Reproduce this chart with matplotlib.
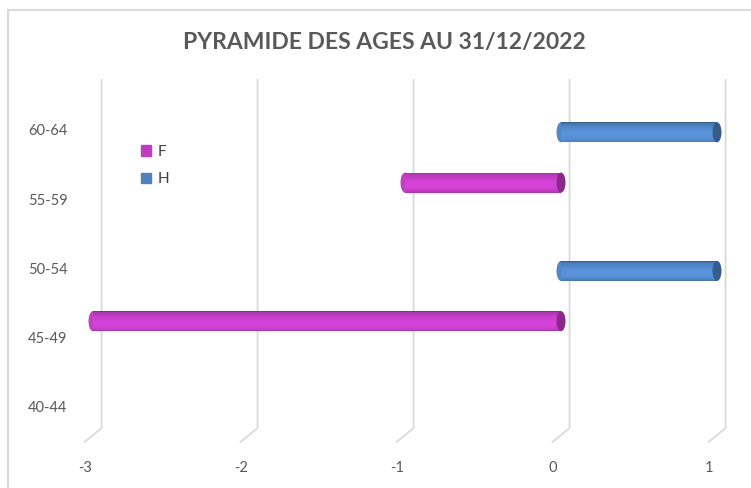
import matplotlib.pyplot as plt
import numpy as np
from matplotlib.patches import Ellipse, Rectangle
from matplotlib.colors import to_rgb

# data
ages = ['40-44', '45-49', '50-54', '55-59', '60-64']
femmes = [0, -3, 0, -1, 0]
hommes = [0, 0, 1, 0, 1]
xticks = [-3, -2, -1, 0, 1]

W, H = 751, 488
fig = plt.figure(figsize=(W / 100, H / 100), dpi=100)
plt.rcParams['font.family'] = ['Lato', 'DejaVu Sans']

# chart area border (Excel-like)
fig.patches.append(Rectangle((8 / W, -0.1), 1.2, 1.1 - 10 / H, transform=fig.transFigure,
                             fill=False, edgecolor='#d9d9d9', linewidth=1.5))

# axes placed so that value 0 sits at x=561 px and 156 px per unit
px0, ppu = 561, 156
ax_l, ax_r, ax_t, ax_b = 80, 740, 78, 432
ax = fig.add_axes([ax_l / W, 1 - ax_b / H, (ax_r - ax_l) / W, (ax_b - ax_t) / H])
ax.set_xlim((ax_l - px0) / ppu, (ax_r - px0) / ppu)
ypu = 69.3
ax.set_ylim((400 - ax_b) / ypu, (400 - ax_t) / ypu)
for s in ax.spines.values():
    s.set_visible(False)

grid_col = '#d9d9d9'
back = 0.055   # back wall offset (3D)
y_top, y_bot, y_diag = (400 - 80) / ypu, (400 - 428) / ypu, (400 - 442) / ypu
for v in xticks:
    ax.plot([v + back, v + back, v + back - 17 / ppu], [y_top, y_bot, y_diag],
            color=grid_col, lw=1.3, clip_on=False, zorder=1)

ax.set_xticks([v - 0.05 for v in xticks], [str(v) for v in xticks])
ax.set_yticks([i - 0.1 for i in range(len(ages))], ages)
ax.tick_params(length=0, colors='#595959', labelsize=10.5)
ax.tick_params(axis='x', pad=21)
ax.tick_params(axis='y', pad=9)


def cylinder(yc, start, width, base, h=0.29, n=24):
    base = np.array(to_rgb(base))
    for k in range(n):
        t = (k + 0.5) / n          # 0 = bottom, 1 = top
        f = 0.72 + 0.36 * np.sin(np.pi * t ** 0.75) ** 0.5
        if t > 0.94:
            f *= 0.88
        c = np.clip(base * f, 0, 1)
        ax.barh(yc - h / 2 + k * h / n, width, height=h / n * 1.05, left=start,
                align='edge', color=c, linewidth=0, zorder=3)
    ew = 9 / ppu
    lo, hi = min(start, start + width), max(start, start + width)
    ax.add_patch(Ellipse((lo, yc), ew, h, color=base * 1.0, lw=0, zorder=2.9))
    ax.add_patch(Ellipse((hi, yc), ew, h, color=base * 0.68, lw=0, zorder=4))


d = 0.137
F_COL, H_COL = '#c63ec8', '#5288ca'
for i, (f, m) in enumerate(zip(femmes, hommes)):
    if f != 0:
        cylinder(i + d, f, -f, F_COL)
    if m != 0:
        cylinder(i - d, 0, m, H_COL)

# legend
hF = Rectangle((0, 0), 1, 1, color='#bf3bbf')
hH = Rectangle((0, 0), 1, 1, color='#4f81bd')
leg = fig.legend([hF, hH], ['F', 'H'], loc='upper left', bbox_to_anchor=(133 / W, 1 - 137 / H),
                 frameon=False, fontsize=11, handlelength=0.7, handleheight=0.7,
                 handletextpad=0.4, labelspacing=0.9, borderpad=0)
for t in leg.get_texts():
    t.set_color('#404040')

fig.text(384 / W, 1 - 43 / H, 'PYRAMIDE DES AGES AU 31/12/2022', ha='center', va='center',
         fontsize=16.5, fontweight='bold', color='#595959')

fig.savefig('out.png', dpi=100, facecolor='white')
